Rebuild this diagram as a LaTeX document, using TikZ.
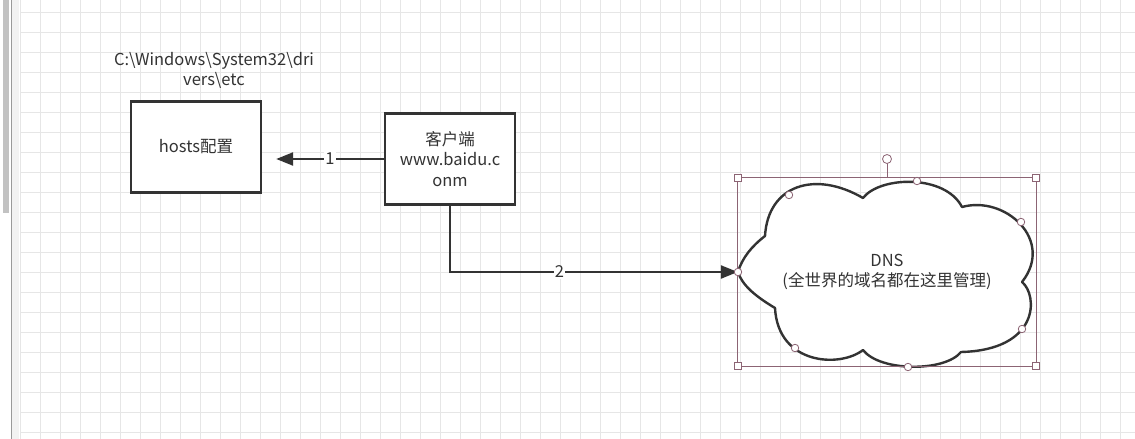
\documentclass[tikz,border=0pt]{standalone}
\usepackage{fontspec}
\setmainfont{Noto Sans CJK SC}
\usetikzlibrary{arrows.meta}
\definecolor{ink}{HTML}{333333}
\definecolor{gridc}{HTML}{E6E6E6}
\definecolor{selc}{HTML}{8C6474}
\definecolor{barc}{HTML}{C2C2C2}
\definecolor{railc}{HTML}{9A9A9A}
\definecolor{stripc}{HTML}{F2F2F2}
\begin{document}
\begin{tikzpicture}[x=1pt,y=-1pt,
  txt/.style={text=ink,font=\fontsize{16.5}{20.5}\selectfont,inner sep=0pt,align=center},
  boxnode/.style={draw=ink,line width=2.4pt,fill=white,minimum width=130pt,inner sep=0pt,txt},
  link/.style={draw=ink,line width=2.4pt,-{Triangle[length=17pt,width=13pt]}},
  linklabel/.style={txt,fill=white,inner sep=1pt},
  handle/.style={draw=selc,fill=white,line width=0.8pt,circle,minimum size=7.5pt,inner sep=0pt},
  corner/.style={draw=selc,fill=white,line width=0.8pt,rectangle,minimum size=7pt,inner sep=0pt}]
\useasboundingbox (0,0) rectangle (1135,439);
% canvas and grid
\fill[white] (0,0) rectangle (1135,439);
\foreach \gx in {20,40,...,1120} \draw[gridc,line width=0.8pt] (\gx,0) -- (\gx,439);
\foreach \gy in {12,32,...,432} \draw[gridc,line width=0.8pt] (20,\gy) -- (1135,\gy);
% left scroll strip
\fill[white] (0,0) rectangle (11,439);
\fill[stripc] (12,0) rectangle (19,439);
\fill[barc] (3,0) rectangle (9,213);
\draw[railc,line width=1pt] (11.5,0) -- (11.5,439);

% boxes
\node[boxnode,minimum height=91pt] (hosts) at (196,147) {hosts配置};
\node[txt] (path) at (214,70.5) {C:\textbackslash Windows\textbackslash System32\textbackslash dri\\vers\textbackslash etc};
\node[boxnode,minimum height=91pt] (client) at (450,159) {客户端\\www.baidu.c\\onm};

% DNS cloud (bounding node, then outline)
\node[minimum width=298pt,minimum height=188pt,inner sep=0pt] (dns) at (887,272) {};
\draw[ink,line width=2.4pt,fill=white,line join=round]
  (738,272) .. controls (742,258) and (752,246) .. (765,236)
  .. controls (768,185) and (815,170) .. (863,198)
  .. controls (880,176) and (945,174) .. (962,207)
  .. controls (1005,195) and (1055,240) .. (1022,282)
  .. controls (1038,295) and (1040,350) .. (961,352)
  .. controls (945,372) and (880,372) .. (863,350)
  .. controls (840,368) and (778,365) .. (775,308)
  .. controls (755,296) and (742,285) .. (738,272) -- cycle;
\node[txt] (dnstext) at (dns.center) {DNS\\(全世界的域名都在这里管理)};

% connectors
\coordinate (h1) at ([xshift=14pt]hosts.east |- client.west);
\draw[link] (client.west) -- (h1)
  node[linklabel,pos=0.5] (l1) {1};
\draw[link] (client.south) |- (dns.west)
  node[linklabel,pos=0.69] (l2) {2};

% selection frame around the cloud
\draw[selc,line width=0.8pt] (dns.north west) rectangle (dns.south east);
\coordinate (rot) at (887,159);
\draw[selc,line width=0.8pt] (dns.north) -- ([yshift=4pt]rot);
\node[handle,minimum size=9pt] (rh) at (rot) {};
\foreach \c in {north west,north east,south west,south east}
  \node[corner] at (dns.\c) {};
\foreach \p in {(738,272),(789,195),(917,181),(1021,222),(1022,329),(908,367),(795,348)}
  \node[handle] at \p {};
\end{tikzpicture}
\end{document}
